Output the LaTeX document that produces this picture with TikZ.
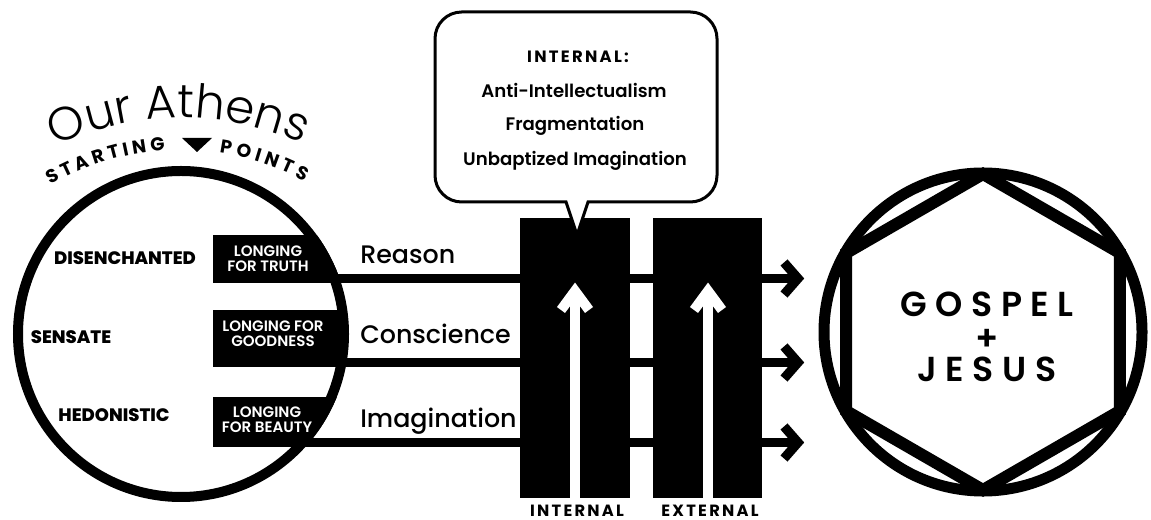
\documentclass[tikz,border=0pt]{standalone}
\usepackage{fontspec}
\setmainfont{Poppins}
\newfontfamily\plight{Poppins Light}
\newfontfamily\pmed{Poppins Medium}
\newfontfamily\psemi{Poppins SemiBold}
\newfontfamily\pbold{Poppins Bold}
\newfontfamily\pxbold{Poppins ExtraBold}
\newfontfamily\pspaced{Poppins Bold}[LetterSpace=14]
\newfontfamily\pgospel{Poppins SemiBold}[LetterSpace=25]
\usetikzlibrary{decorations.text}
\tikzset{
  ringline/.style={line width=7.5pt},
  ringlineR/.style={line width=8.25pt},
  hexline/.style={line width=9pt, line join=miter},
  flowline/.style={line width=6.4pt},
  chev/.style={line width=7pt, line join=miter, miter limit=10, line cap=butt},
  wchev/.style={white, line width=7.5pt, line join=miter, miter limit=10, line cap=butt},
  shaft/.style={white, line width=7.5pt},
  lbox/.style={fill=black, inner sep=0pt, minimum width=95.25pt},
  boxtxt/.style={text=white, align=center, inner sep=0pt, font=\psemi\fontsize{11.3}{11.5}\selectfont},
  startlbl/.style={inner sep=0pt, font=\pxbold\fontsize{13.5}{13.5}\selectfont},
  flowlbl/.style={anchor=base west, inner sep=0pt, font=\pmed\fontsize{19}{19}\selectfont},
  pillar/.style={fill=black, inner sep=0pt, minimum height=210pt},
  callout/.style={draw=black, fill=white, line width=2.25pt},
  calltxt/.style={anchor=base, inner sep=0pt, font=\psemi\fontsize{13.6}{13.6}\selectfont},
  calltitle/.style={anchor=base, inner sep=0pt, font=\pspaced\fontsize{12.3}{12.3}\selectfont},
  pillarlbl/.style={anchor=base, inner sep=0pt, font=\pspaced\fontsize{12.2}{12.2}\selectfont},
  gospel/.style={anchor=base, inner sep=0pt, font=\pgospel\fontsize{26}{26}\selectfont},
}
\begin{document}
\begin{tikzpicture}[x=0.75pt,y=0.75pt]
\useasboundingbox (0,0) rectangle (1151,520);
\coordinate (Lc) at (181,186);
\coordinate (Rc) at (983,188);
\coordinate (Ac) at (181,102);
\coordinate (Sc) at (181,110);

% curved titles
\path[decorate, decoration={text along path, text align=center,
  text={|\plight\fontsize{35}{35}\selectfont|Our Athens}}]
  (Ac) ++(117:300) arc[start angle=117, end angle=64, radius=300];
\path[decorate, decoration={text along path, text align=fit to path,
  text={|\pbold\fontsize{14}{14}\selectfont|STARTING}}]
  (Sc) ++(120:260) arc[start angle=120, end angle=93.5, radius=260];
\path[decorate, decoration={text along path, text align=fit to path,
  text={|\pbold\fontsize{14}{14}\selectfont|POINTS}}]
  (Sc) ++(81.5:260) arc[start angle=81.5, end angle=61.5, radius=260];
\fill (182,382) -- (212,382) -- (197,368) -- cycle;

% flow lines and arrowheads
\coordinate (s1) at (300,241.5); \coordinate (e1) at (798,241.5);
\coordinate (s2) at (300,157.5); \coordinate (e2) at (798,157.5);
\coordinate (s3) at (285,77.5);  \coordinate (e3) at (798,77.5);
\foreach \i in {1,2,3} {
  \draw[flowline] (s\i) -- (e\i);
  \draw[chev] (e\i) ++(-14,16) -- (e\i) -- ++(-14,-16);
}

% longing boxes, clipped by the outer circle
\begin{scope}
  \clip (Lc) circle[radius=168];
  \node[lbox, minimum height=36pt]    (b1) at (276.5,261) {};
  \node[lbox, minimum height=42.75pt] (b2) at (276.5,181.5) {};
  \node[lbox, minimum height=37.5pt]  (b3) at (276.5,98) {};
\end{scope}
\draw[ringline] (Lc) circle[radius=163];
\node[boxtxt] (t1) at (268,261.5) {LONGING\\FOR TRUTH};
\node[boxtxt] (t2) at (273,186.5) {LONGING FOR\\GOODNESS};
\node[boxtxt] (t3) at (267,100) {LONGING\\FOR BEAUTY};

\node[startlbl] (d1) at (125,262) {DISENCHANTED};
\node[startlbl] (d2) at (71,183) {SENSATE};
\node[startlbl] (d3) at (114,105) {HEDONISTIC};

\node[flowlbl] (f1) at (360,256) {Reason};
\node[flowlbl] (f2) at (360,176) {Conscience};
\node[flowlbl] (f3) at (360,92) {Imagination};

% pillars
\node[pillar, minimum width=82.5pt]  (p1) at (575,162) {};
\node[pillar, minimum width=81.75pt] (p2) at (707.5,162) {};
\coordinate (a1b) at (575,22);  \coordinate (a1t) at (575,229);
\coordinate (a2b) at (708,22);  \coordinate (a2t) at (708,229);
\foreach \i in {1,2} {
  \draw[shaft] (a\i b) -- (a\i t);
  \draw[wchev] (a\i t) ++(-14,-19) -- (a\i t) -- ++(14,-19);
}
\node[pillarlbl] (il) at (577,3.5) {INTERNAL};
\node[pillarlbl] (el) at (710,3.5) {EXTERNAL};

% callout
\coordinate (ctip) at (577,285);
\draw[callout] (ctip) -- (566,318) [rounded corners=20] -- (435,318) -- (435,508)
  -- (717,508) -- (717,318) [sharp corners] -- (588,318) -- cycle;
\node[calltitle] (c0) at (578,457) {INTERNAL:};
\node[calltxt] (c1) at (574,422) {Anti-Intellectualism};
\node[calltxt] (c2) at (575,389) {Fragmentation};
\node[calltxt] (c3) at (575,354) {Unbaptized Imagination};

% gospel circle
\draw[ringlineR] (Rc) circle[radius=159];
\draw[hexline] (Rc) +(90:158) -- +(150:158) -- +(210:158) -- +(270:158)
  -- +(330:158) -- +(30:158) -- cycle;
\node[gospel] (g1) at (987,203) {GOSPEL};
\node[gospel] (g2) at (987,169) {+};
\node[gospel] (g3) at (987,138) {JESUS};
\end{tikzpicture}
\end{document}
